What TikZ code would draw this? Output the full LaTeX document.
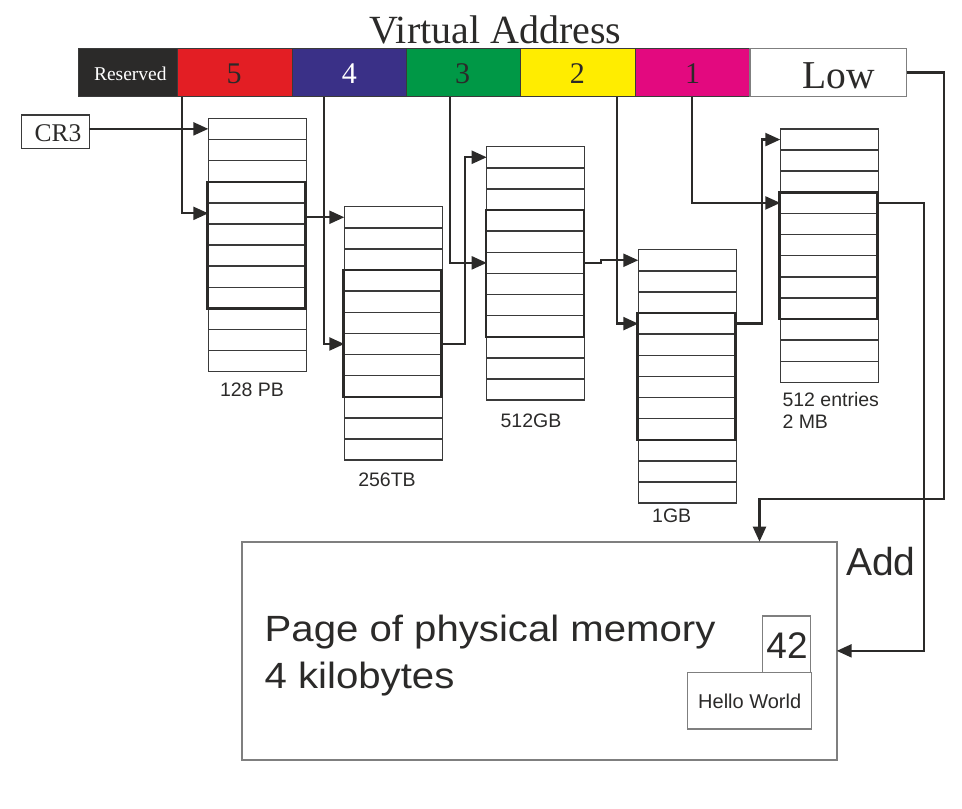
\documentclass[tikz,border=0pt]{standalone}
\usepackage{fontspec}
\setmainfont{Liberation Serif}
\setsansfont{Liberation Sans}
\newfontfamily\pagefont[FakeStretch=1.1]{Liberation Sans}
\usetikzlibrary{arrows.meta}
\definecolor{ink}{HTML}{2B2A29}
\definecolor{rowline}{HTML}{3A3A3A}
\definecolor{pagegray}{HTML}{7F7F7F}
\definecolor{segred}{HTML}{E31E24}
\definecolor{segblue}{HTML}{3A3087}
\definecolor{seggreen}{HTML}{009846}
\definecolor{segyellow}{HTML}{FFED00}
\definecolor{segmag}{HTML}{E3097F}
\tikzset{
  conn/.style={draw=ink, line width=2.3pt, -{Triangle[length=15pt,width=13pt]}},
  segbox/.style={draw=rowline, line width=1pt, anchor=north west, minimum height=48.4pt, inner sep=0pt, outer sep=0pt},
  rowbox/.style={draw=rowline, line width=1.5pt, minimum width=98pt, minimum height=21.12pt, anchor=north west, inner sep=0pt, outer sep=0pt},
  innerbox/.style={draw=ink, line width=2.3pt},
  plainbox/.style={draw=pagegray, line width=1.5pt, anchor=north west, inner sep=0pt, outer sep=0pt},
  serifbig/.style={font=\fontsize{40}{48}\selectfont, text=ink, inner sep=0pt, anchor=base},
  digit/.style={font=\fontsize{30}{36}\selectfont, text=ink, inner sep=0pt, anchor=base},
  tlabel/.style={font=\sffamily\fontsize{19.5}{23}\selectfont, text=ink, inner sep=0pt},
}
\begin{document}
\begin{tikzpicture}[x=1pt,y=-1pt]
\useasboundingbox (0,0) rectangle (962,809);
% title
\node[serifbig] (title) at (495.5,43.3) {Virtual Address};
% address bar
\node[segbox, fill=ink, minimum width=99pt] (seg0) at (78,48.3) {};
\node[segbox, fill=segred, minimum width=115.3pt] (seg5) at (177,48.3) {};
\node[segbox, fill=segblue, minimum width=114pt] (seg4) at (292.3,48.3) {};
\node[segbox, fill=seggreen, minimum width=114.4pt] (seg3) at (406.3,48.3) {};
\node[segbox, fill=segyellow, minimum width=114.6pt] (seg2) at (520.7,48.3) {};
\node[segbox, fill=segmag, minimum width=114.7pt] (seg1) at (635.3,48.3) {};
\node[segbox, fill=white, draw=pagegray, line width=1.3pt, minimum width=156.7pt] (seglow) at (750,48.3) {};
\node[font=\fontsize{19.5}{23}\selectfont, text=white, inner sep=0pt, anchor=base] (lres) at (130.3,80) {Reserved};
\node[digit] (l5) at (234,83.3) {5};
\node[digit, text=white] (l4) at (349.3,83.3) {4};
\node[digit] (l3) at (462.7,83.3) {3};
\node[digit] (l2) at (577.3,83.3) {2};
\node[digit] (l1) at (692.7,83.3) {1};
\node[font=\fontsize{39.5}{47}\selectfont, text=ink, inner sep=0pt, anchor=base] (llow) at (839,88.3) {Low};
% CR3
\node[plainbox, draw=rowline, line width=1.3pt, minimum width=67.6pt, minimum height=33.3pt] (cr3) at (21.7,115) {};
\node[font=\fontsize{25.5}{30}\selectfont, text=ink, inner sep=0pt, anchor=base] (lcr3) at (58,141.7) {CR3};
% tables
\foreach \t/\x/\y in {1/208.3/118.3, 2/344.3/206.7, 3/486.7/146.7, 4/638.3/249.7, 5/780.3/129}{
  \foreach \r in {1,...,12}{
    \node[rowbox] (t\t-\r) at (\x,{\y+(\r-1)*21.12}) {};
  }
  \draw[innerbox] ([xshift=-0.8pt]t\t-4.north west) rectangle ([xshift=-0.8pt]t\t-9.south east);
}
% table labels
\node[tlabel, anchor=base] (lab1) at (252,396) {128 PB};
\node[tlabel, anchor=base] (lab2) at (387,486.7) {256TB};
\node[tlabel, anchor=base] (lab3) at (531,427.3) {512GB};
\node[tlabel, anchor=base] (lab4) at (671.7,522.7) {1GB};
\node[tlabel, anchor=base west] (lab5a) at (782.3,406) {512 entries};
\node[tlabel, anchor=base west] (lab5b) at (782.3,428.3) {2 MB};
% physical page
\node[plainbox, line width=1.6pt, minimum width=594.7pt, minimum height=218.3pt] (page) at (242,541.7) {};
\node[font=\pagefont\fontsize{36.5}{46.6}\selectfont, text=ink, inner sep=0pt, anchor=base west] (ptext1) at (264.5,641.7) {Page of physical memory};
\node[font=\pagefont\fontsize{36.5}{46.6}\selectfont, text=ink, inner sep=0pt, anchor=base west] (ptext2) at (264.5,688.3) {4 kilobytes};
\node[plainbox, line width=1.3pt, minimum width=48pt, minimum height=56.7pt] (b42) at (762.7,616) {};
\node[font=\sffamily\fontsize{37}{44}\selectfont, text=ink, inner sep=0pt, anchor=base] (l42) at (787,658.3) {42};
\node[plainbox, line width=1.3pt, minimum width=124pt, minimum height=56.3pt] (hello) at (687.7,672.7) {};
\node[font=\sffamily\fontsize{20}{24}\selectfont, text=ink, inner sep=0pt, anchor=base] (lhello) at (749.7,708.3) {Hello World};
\node[font=\sffamily\fontsize{39}{46}\selectfont, text=ink, inner sep=0pt, anchor=base west] (ladd) at (846,575) {Add};
% connectors
\draw[conn] (cr3.east |- t1-1.west) -- (t1-1.west);
\draw[conn] ([xshift=5pt]seg5.south west) |- (t1-5.west);
\draw[conn] ([xshift=32pt]seg4.south west) |- (t2-7.west);
\draw[conn] (t1-5.east |- t2-1.west) -- (t2-1.west);
\draw[conn] ([xshift=43.7pt]seg3.south west) |- (t3-6.west);
\draw[conn] (t2-7.east) -- ++(22.5pt,0) |- (t3-1.west);
\draw[conn] ([xshift=96.5pt]seg2.south west) |- (t4-4.west);
\draw[conn] (t3-6.east) -- ++(16pt,0) |- (t4-1.west);
\draw[conn] ([xshift=57pt]seg1.south west) |- (t5-4.west);
\draw[conn] (t4-4.east) -- ++(25.5pt,0) |- (t5-1.west);
\draw[conn] (t5-4.east) -- ++(46pt,0) |- (page.east);
\coordinate (j1) at (944,499);
\draw[conn] (seglow.east) -| (j1) -| ([xshift=517.5pt]page.north west);
\end{tikzpicture}
\end{document}
